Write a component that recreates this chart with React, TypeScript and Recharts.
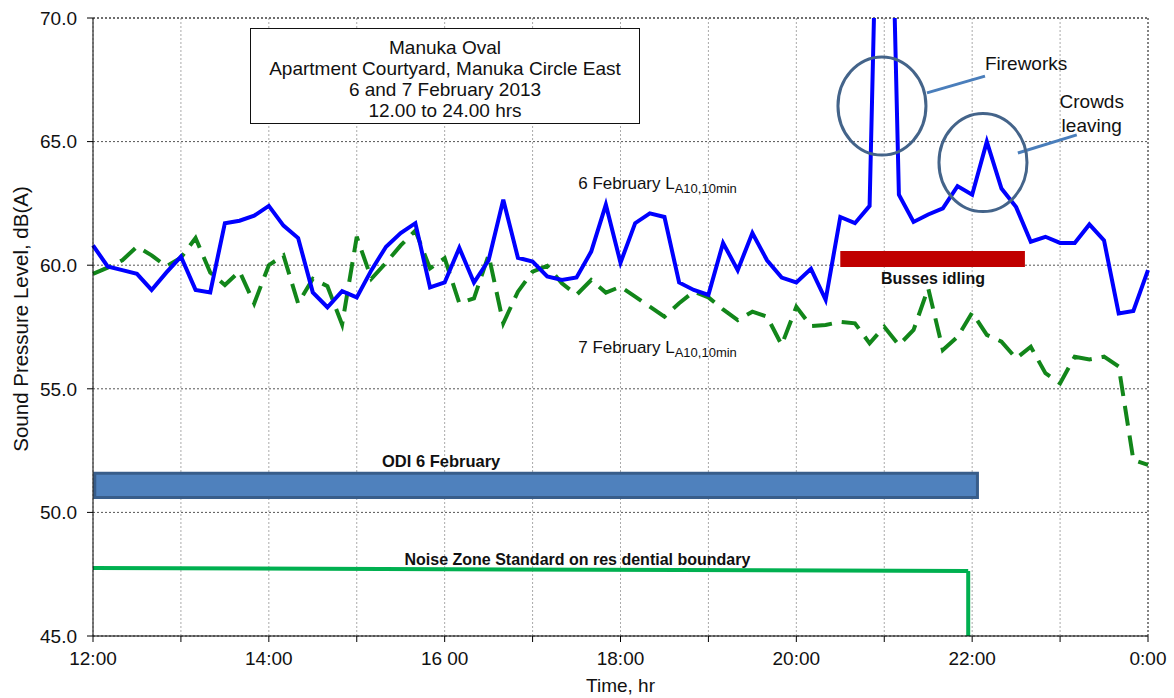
import React from "react";
import {
  LineChart,
  Line,
  XAxis,
  YAxis,
  CartesianGrid,
  ReferenceArea,
  ReferenceLine,
  ReferenceDot,
} from "recharts";

// 10-minute readings from 12:00 to 24:00
const startHour = 12;
const stepMinutes = 10;

const feb6 = [
  60.8, 59.95, 59.8, 59.65, 59.0, 59.7, 60.35, 59.0, 58.9, 61.7, 61.8, 62.0,
  62.4, 61.6, 61.1, 58.9, 58.3, 58.95, 58.7, 59.8, 60.75, 61.3, 61.7, 59.1,
  59.3, 60.7, 59.3, 60.2, 62.65, 60.3, 60.15, 59.55, 59.4, 59.5, 60.55, 62.45,
  60.1, 61.7, 62.1, 61.95, 59.3, 59.0, 58.8, 60.9, 59.8, 61.3, 60.2, 59.5,
  59.3, 59.85, 58.6, 61.95, 61.7, 62.4, 88.0, 62.85, 61.75, 62.05, 62.3, 63.2,
  62.85, 65.0, 63.1, 62.35, 60.95, 61.15, 60.9, 60.9, 61.65, 61.0, 58.05, 58.15,
  59.8,
];

const feb7 = [
  59.65, 59.9, 60.2, 60.75, 60.4, 59.95, 60.3, 61.1, 59.7, 59.2, 59.75, 58.45,
  60.0, 60.4, 58.45, 59.45, 59.15, 57.6, 61.15, 59.45, 60.1, 60.8, 61.4, 59.87,
  60.28, 58.46, 58.66, 60.41, 57.65, 58.93, 59.74, 59.97, 59.27, 58.8, 59.4, 58.89,
  59.13, 58.73, 58.32, 57.92, 58.46, 58.93, 58.7, 58.21, 57.78, 58.12, 57.92, 56.77,
  58.32, 57.54, 57.58, 57.71, 57.65, 56.84, 57.51, 56.77, 57.38, 59.07, 56.57, 57.1,
  58.08, 57.18, 56.91, 56.23, 56.7, 55.63, 55.22, 56.3, 56.19, 56.3, 55.9, 52.12,
  51.92,
];

const xTicks = [12, 13, 14, 15, 16, 17, 18, 19, 20, 21, 22, 23, 24];
const xTickLabels: Record<number, string> = {
  12: "12:00",
  14: "14:00",
  16: "16 00",
  18: "18:00",
  20: "20:00",
  22: "22:00",
  24: "0:00",
};
const yTicks = [45, 50, 55, 60, 65, 70];

const titleLines = [
  "Manuka Oval",
  "Apartment Courtyard, Manuka Circle East",
  "6 and 7 February 2013",
  "12.00 to 24.00 hrs",
];

const data = feb6.map((v, i) => ({
  t: startHour + (i * stepMinutes) / 60,
  feb6: v,
  feb7: feb7[i],
}));

const FONT = "'Liberation Sans', Arial, sans-serif";

const ellipse = (p: any) => (
  <ellipse cx={p.cx} cy={p.cy} rx={44} ry={49} fill="none" stroke="#44648a" strokeWidth={3} />
);

const note =
  (text: string, size: number, anchor: string = "start", bold = false) =>
  (p: any) =>
    (
      <text
        x={p.cx}
        y={p.cy}
        textAnchor={anchor}
        fontFamily={FONT}
        fontSize={size}
        fontWeight={bold ? "bold" : "normal"}
        fill="#111"
      >
        {text}
      </text>
    );

const seriesNote = (day: string) => (p: any) =>
  (
    <text x={p.cx} y={p.cy} fontFamily={FONT} fontSize={17} fill="#111">
      <tspan>{day} L</tspan>
      <tspan fontSize={13} dy={4}>
        A10,10min
      </tspan>
    </text>
  );

export default function App() {
  return (
    <div style={{ position: "absolute", left: 0, top: 0, width: 1174, height: 698, background: "#fff" }}>
      <LineChart
        width={1174}
        height={698}
        data={data}
        margin={{ top: 18, right: 26, bottom: 0, left: 0 }}
        style={{ fontFamily: FONT }}
      >
        <CartesianGrid vertical={false} stroke="#555" strokeDasharray="2 2" />
        <CartesianGrid horizontal={false} stroke="#aaa" strokeDasharray="2 2" />
        <XAxis
          dataKey="t"
          type="number"
          domain={[12, 24]}
          ticks={xTicks}
          interval={0}
          tickFormatter={(v: number) => xTickLabels[v] ?? ""}
          height={62}
          tickSize={6}
          tickMargin={10}
          stroke="#000"
          tick={{ fill: "#111", fontSize: 19 }}
          label={{ value: "Time, hr", position: "insideBottom", offset: 6, fill: "#111", fontSize: 19 }}
        />
        <YAxis
          type="number"
          domain={[45, 70]}
          ticks={yTicks}
          allowDataOverflow
          tickFormatter={(v: number) => v.toFixed(1)}
          width={93}
          tickSize={6}
          tickMargin={10}
          stroke="#000"
          tick={{ fill: "#111", fontSize: 19 }}
          label={{
            value: "Sound Pressure Level, dB(A)",
            angle: -90,
            position: "center",
            dx: -26,
            dy: -8,
            fill: "#111",
            fontSize: 20.5,
          }}
        />
        <ReferenceLine y={70} stroke="#333" strokeDasharray="2 2" />
        <ReferenceLine x={24} stroke="#333" strokeDasharray="2 2" />

        <ReferenceArea
          x1={12.02}
          x2={22.06}
          y1={50.6}
          y2={51.58}
          fill="#4f81bd"
          fillOpacity={1}
          stroke="#385d8a"
          strokeWidth={3}
        />
        <ReferenceLine
          segment={[
            { x: 12, y: 47.75 },
            { x: 21.955, y: 47.63 },
          ]}
          stroke="#00b050"
          strokeWidth={4}
        />
        <ReferenceLine
          segment={[
            { x: 21.955, y: 47.63 },
            { x: 21.955, y: 45 },
          ]}
          stroke="#00b050"
          strokeWidth={4}
        />
        <ReferenceArea x1={20.5} x2={22.6} y1={59.93} y2={60.57} fill="#c00000" fillOpacity={1} stroke="none" />

        <Line
          type="linear"
          dataKey="feb7"
          stroke="#12861a"
          strokeWidth={4}
          strokeDasharray="20 10"
          dot={false}
          isAnimationActive={false}
        />
        <Line
          type="linear"
          dataKey="feb6"
          stroke="#0000ff"
          strokeWidth={4}
          dot={false}
          isAnimationActive={false}
        />

        <ReferenceDot x={20.974} y={66.44} r={0} shape={ellipse} />
        <ReferenceDot x={22.123} y={64.155} r={0} shape={ellipse} />
        <ReferenceLine
          segment={[
            { x: 21.486, y: 66.97 },
            { x: 22.146, y: 67.65 },
          ]}
          stroke="#4a7ebb"
          strokeWidth={3}
        />
        <ReferenceLine
          segment={[
            { x: 22.52, y: 64.54 },
            { x: 23.19, y: 65.27 },
          ]}
          stroke="#4a7ebb"
          strokeWidth={3}
        />

        <ReferenceDot x={22.145} y={67.9} r={0} shape={note("Fireworks", 19)} />
        <ReferenceDot x={23.36} y={66.36} r={0} shape={note("Crowds", 19, "middle")} />
        <ReferenceDot x={23.36} y={65.39} r={0} shape={note("leaving", 19, "middle")} />
        <ReferenceDot x={21.554} y={59.24} r={0} shape={note("Busses idling", 16, "middle", true)} />
        <ReferenceDot x={15.96} y={51.84} r={0} shape={note("ODI 6 February", 16.5, "middle", true)} />
        <ReferenceDot
          x={17.51}
          y={47.87}
          r={0}
          shape={note("Noise Zone Standard on res dential boundary", 16, "middle", true)}
        />
        <ReferenceDot x={17.52} y={63.08} r={0} shape={seriesNote("6 February")} />
        <ReferenceDot x={17.52} y={56.45} r={0} shape={seriesNote("7 February")} />
      </LineChart>

      <div
        style={{
          position: "absolute",
          left: 250,
          top: 28,
          width: 390,
          height: 96,
          boxSizing: "border-box",
          border: "1.5px solid #111",
          background: "#fff",
          fontFamily: FONT,
          fontSize: 19,
          lineHeight: "21px",
          textAlign: "center",
          paddingTop: 8,
          color: "#111",
        }}
      >
        {titleLines.map((l) => (
          <div key={l}>{l}</div>
        ))}
      </div>
    </div>
  );
}
